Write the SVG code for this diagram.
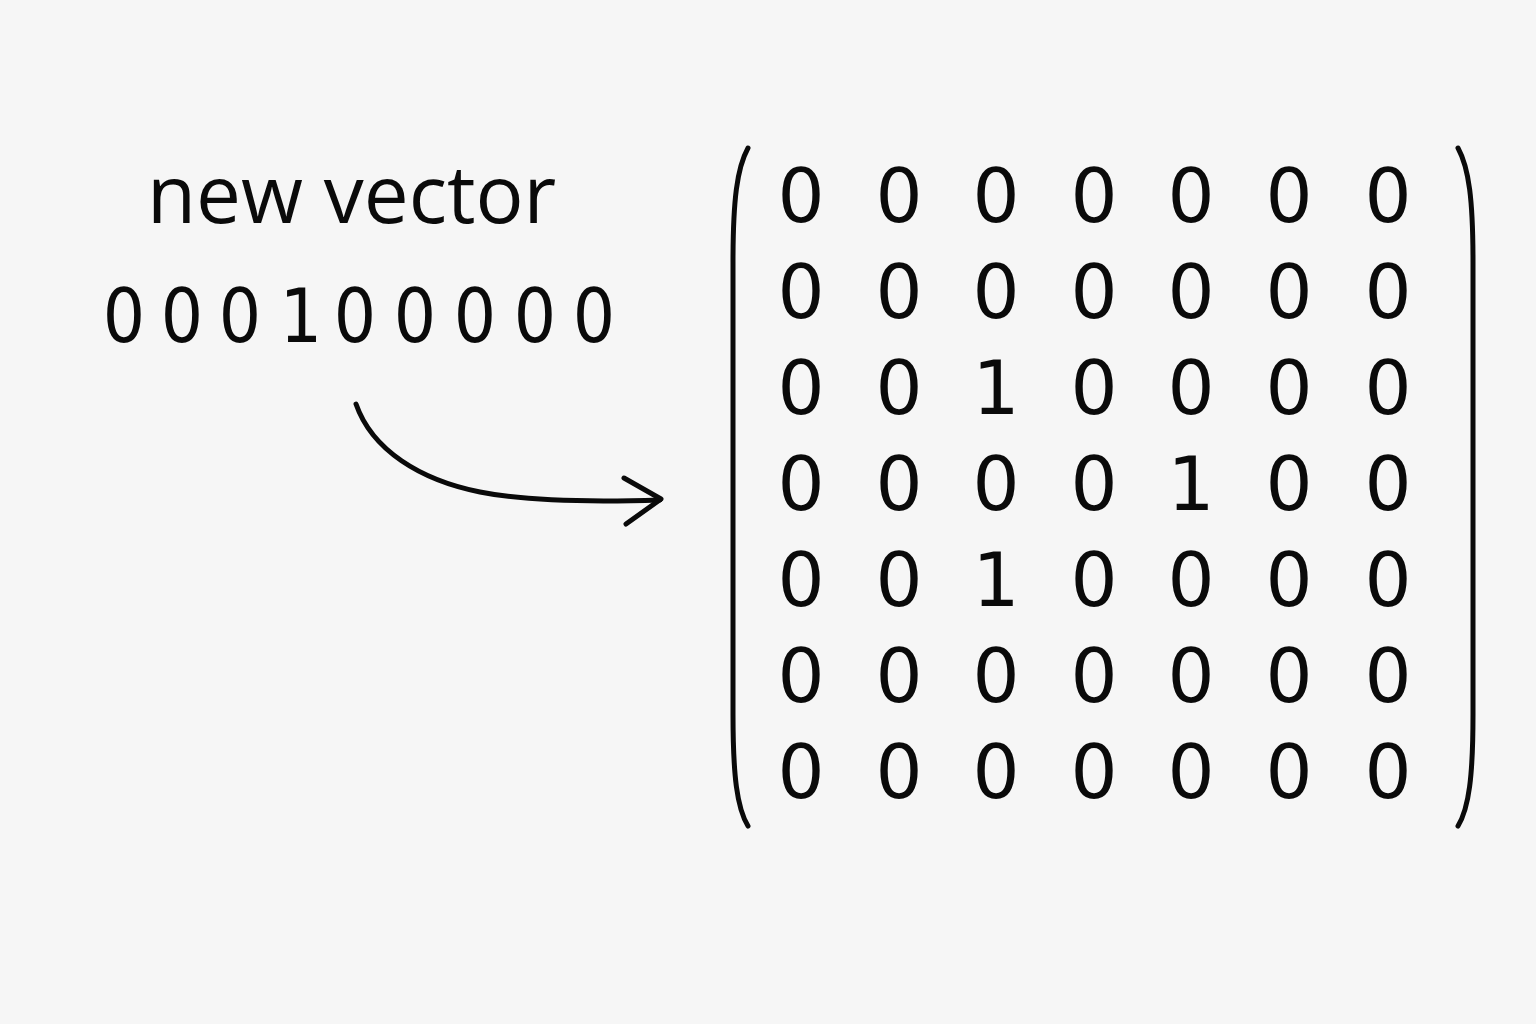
<svg xmlns="http://www.w3.org/2000/svg" width="1536" height="1024" viewBox="0 0 1536 1024">
<style>
.t{font-family:"Open Sans","Noto Sans","Liberation Sans",sans-serif;fill:#0a0a0a;}
.d{font-family:"DejaVu Sans","Liberation Sans",sans-serif;font-size:74px;text-anchor:middle;fill:#0a0a0a;}
.v{font-family:"DejaVu Sans Condensed","DejaVu Sans",sans-serif;}
.b{fill:none;stroke:#0a0a0a;stroke-width:5;stroke-linecap:round;}
.c{fill:none;stroke:#0a0a0a;stroke-width:5;stroke-linecap:round;stroke-linejoin:round;}
</style>
<rect width="1536" height="1024" fill="#f6f6f6"/>
<g id="label">
<text class="t" x="147" y="223" font-size="80">new vector</text>
</g>
<g id="vector" class="d v">
<text x="124" y="342">0</text>
<text x="182" y="342">0</text>
<text x="240" y="342">0</text>
<text x="301" y="342">1</text>
<text x="355" y="342">0</text>
<text x="415" y="342">0</text>
<text x="475" y="342">0</text>
<text x="535" y="342">0</text>
<text x="594" y="342">0</text>
</g>
<g id="connectors">
<path class="c" d="M356,404 C372,450 420,480 480,492 C530,502 600,502 660,500"/>
<path class="c" d="M624,478 L661,499 L626,524"/>
</g>
<g id="matrix">
<path class="b" d="M748,148 C737,168 733,200 733,262 L733,714 C733,776 737,808 748,826"/>
<path class="b" d="M1458,148 C1469,168 1473,200 1473,262 L1473,714 C1473,776 1469,808 1458,826"/>
<g class="d">
<text x="801" y="222">0</text><text x="899" y="222">0</text><text x="996" y="222">0</text><text x="1094" y="222">0</text><text x="1191" y="222">0</text><text x="1289" y="222">0</text><text x="1388" y="222">0</text>
<text x="801" y="318">0</text><text x="899" y="318">0</text><text x="996" y="318">0</text><text x="1094" y="318">0</text><text x="1191" y="318">0</text><text x="1289" y="318">0</text><text x="1388" y="318">0</text>
<text x="801" y="414">0</text><text x="899" y="414">0</text><text x="996" y="414">1</text><text x="1094" y="414">0</text><text x="1191" y="414">0</text><text x="1289" y="414">0</text><text x="1388" y="414">0</text>
<text x="801" y="510">0</text><text x="899" y="510">0</text><text x="996" y="510">0</text><text x="1094" y="510">0</text><text x="1191" y="510">1</text><text x="1289" y="510">0</text><text x="1388" y="510">0</text>
<text x="801" y="606">0</text><text x="899" y="606">0</text><text x="996" y="606">1</text><text x="1094" y="606">0</text><text x="1191" y="606">0</text><text x="1289" y="606">0</text><text x="1388" y="606">0</text>
<text x="801" y="702">0</text><text x="899" y="702">0</text><text x="996" y="702">0</text><text x="1094" y="702">0</text><text x="1191" y="702">0</text><text x="1289" y="702">0</text><text x="1388" y="702">0</text>
<text x="801" y="798">0</text><text x="899" y="798">0</text><text x="996" y="798">0</text><text x="1094" y="798">0</text><text x="1191" y="798">0</text><text x="1289" y="798">0</text><text x="1388" y="798">0</text>
</g>
</g>
</svg>
